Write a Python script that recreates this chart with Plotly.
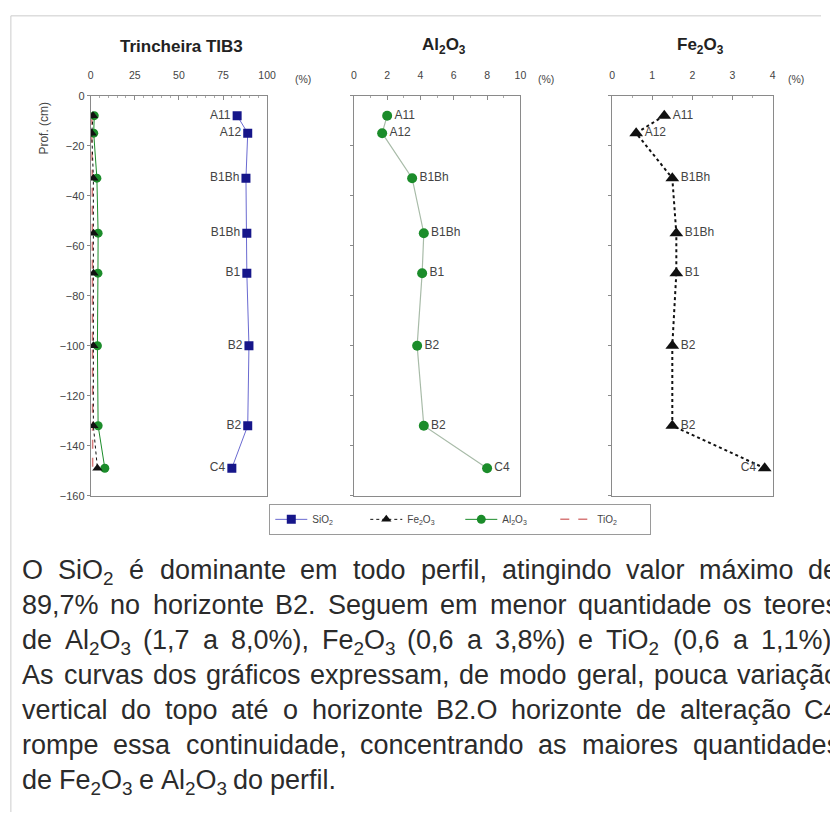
import re
import plotly.graph_objects as go

depth = [-8, -15, -33, -55, -71, -100, -132, -149]
horizons = ["A11", "A12", "B1Bh", "B1Bh", "B1", "B2", "B2", "C4"]
sio2 = [83, 89, 88, 88.5, 88.5, 89.7, 89, 80]
al2o3 = [2.0, 1.7, 3.5, 4.2, 4.1, 3.8, 4.2, 8.0]
fe2o3 = [1.3, 0.6, 1.5, 1.6, 1.6, 1.5, 1.5, 3.8]
tio2 = [0.7, 0.6, 0.9, 1.0, 0.9, 0.9, 1.0, 1.1]

y_ticks = [0, -20, -40, -60, -80, -100, -120, -140, -160]
x1_ticks = [0, 25, 50, 75, 100]
x2_ticks = [0, 2, 4, 6, 8, 10]
x3_ticks = [0, 1, 2, 3, 4]

paragraph = [
    "O SiO<sub>2</sub> é dominante em todo perfil, atingindo valor máximo de",
    "89,7% no horizonte B2. Seguem em menor quantidade os teores",
    "de Al<sub>2</sub>O<sub>3</sub> (1,7 a 8,0%), Fe<sub>2</sub>O<sub>3</sub> (0,6 a 3,8%) e TiO<sub>2</sub> (0,6 a 1,1%).",
    "As curvas dos gráficos expressam, de modo geral, pouca variação",
    "vertical do topo até o horizonte B2.O horizonte de alteração C4",
    "rompe essa continuidade,  concentrando as maiores quantidades",
    "de Fe<sub>2</sub>O<sub>3</sub> e Al<sub>2</sub>O<sub>3</sub> do perfil.",
]

W, H = 830, 818
def px(x):
    return x / W
def py(y):
    return 1 - y / H

NAVY = "#16168a"
GREEN = "#1b8c2a"
BLACK = "#111111"
RED = "#d77a7a"
LBL = "#444444"
FONT = "Liberation Sans, Arial, sans-serif"
LBLFONT = dict(size=12, color=LBL, family=FONT)

fig = go.Figure()

# Panel 1 (all oxides)
fig.add_trace(go.Scatter(x=tio2, y=depth, mode="lines", name="TiO<sub>2</sub>",
                         line=dict(color=RED, width=1.5, dash="dash"),
                         xaxis="x", yaxis="y", legendrank=4))
fig.add_trace(go.Scatter(x=al2o3, y=depth, mode="lines+markers", name="Al<sub>2</sub>O<sub>3</sub>",
                         line=dict(color=GREEN, width=1),
                         marker=dict(symbol="circle", size=9, color=GREEN),
                         xaxis="x", yaxis="y", legendrank=3))
fig.add_trace(go.Scatter(x=fe2o3, y=depth, mode="lines+markers", name="Fe<sub>2</sub>O<sub>3</sub>",
                         line=dict(color=BLACK, width=1, dash="dot"),
                         marker=dict(symbol="triangle-up", size=9, color=BLACK),
                         xaxis="x", yaxis="y", legendrank=2))
fig.add_trace(go.Scatter(x=sio2, y=depth, mode="lines+markers+text", name="SiO<sub>2</sub>",
                         line=dict(color="#6a6ad0", width=1),
                         marker=dict(symbol="square", size=9, color=NAVY),
                         text=horizons, textposition="middle left",
                         textfont=LBLFONT,
                         xaxis="x", yaxis="y", legendrank=1))

# Panel 2 (Al2O3)
fig.add_trace(go.Scatter(x=al2o3, y=depth, mode="lines+markers+text", showlegend=False,
                         line=dict(color="#a8bba8", width=1.2),
                         marker=dict(symbol="circle", size=10, color=GREEN),
                         text=horizons, textposition="middle right",
                         textfont=LBLFONT,
                         xaxis="x2", yaxis="y2"))

# Panel 3 (Fe2O3)
fe_pos = ["middle right"] * (len(horizons) - 1) + ["middle left"]
fig.add_trace(go.Scatter(x=fe2o3, y=depth, mode="lines+markers+text", showlegend=False,
                         line=dict(color=BLACK, width=2, dash="dot"),
                         marker=dict(symbol="triangle-up", size=12, color=BLACK),
                         text=horizons, textposition=fe_pos,
                         textfont=LBLFONT,
                         xaxis="x3", yaxis="y3"))

ydom = [py(497), py(91)]
axis_common = dict(showline=True, linecolor="#8a8a8a", linewidth=1, mirror=True,
                   showgrid=False, zeroline=False)

def xaxis(dom, rng, ticks, dtick_minor, anchor):
    return dict(domain=dom, range=rng, side="top", tickvals=ticks, ticks="inside",
                ticklen=4, tickcolor="#8a8a8a", anchor=anchor, ticklabelstandoff=11,
                tickfont=dict(size=10.5, color=LBL, family=FONT),
                minor=dict(dtick=dtick_minor, ticks="inside", ticklen=2, tickcolor="#aaaaaa"),
                **axis_common)

def yaxis(anchor, labels):
    return dict(domain=ydom, range=[-160, 0], tickvals=y_ticks, ticks="outside",
                ticklen=3, tickcolor="#8a8a8a", anchor=anchor, showticklabels=labels,
                tickfont=dict(size=11, color=LBL, family=FONT),
                **axis_common)

fig.update_layout(
    width=W, height=H, margin=dict(l=0, r=0, t=0, b=0),
    paper_bgcolor="white", plot_bgcolor="white",
    font=dict(family=FONT, color="#333333"),
    xaxis=xaxis([px(89), px(268)], [0, 100], x1_ticks, 5, "y"),
    xaxis2=xaxis([px(356), px(525)], [0, 10], x2_ticks, 1, "y2"),
    xaxis3=xaxis([px(618), px(781)], [0, 4], x3_ticks, 0.5, "y3"),
    yaxis=yaxis("x", True),
    yaxis2=yaxis("x2", False),
    yaxis3=yaxis("x3", False),
    legend=dict(orientation="h", x=px(464), xanchor="center", y=py(521), yanchor="middle",
                bordercolor="#9a9a9a", borderwidth=1, bgcolor="white",
                font=dict(size=10, color=LBL, family=FONT),
                itemwidth=32, entrywidth=48, entrywidthmode="pixels", tracegroupgap=0),
)

annotations = [
    dict(x=px(181), y=py(41), text="<b>Trincheira TIB3</b>", font=dict(size=17, color="#222")),
    dict(x=px(447), y=py(41), text="<b>Al<sub>2</sub>O<sub>3</sub></b>", font=dict(size=17, color="#222")),
    dict(x=px(708), y=py(41), text="<b>Fe<sub>2</sub>O<sub>3</sub></b>", font=dict(size=17, color="#222")),
    dict(x=px(304), y=py(74), text="(%)", font=dict(size=10.5, color=LBL)),
    dict(x=px(551), y=py(74), text="(%)", font=dict(size=10.5, color=LBL)),
    dict(x=px(805), y=py(74), text="(%)", font=dict(size=10.5, color=LBL)),
    dict(x=px(42), y=py(124), text="Prof. (cm)", textangle=-90, font=dict(size=12, color=LBL)),
]
for a in annotations:
    a.update(xref="paper", yref="paper", showarrow=False, xanchor="center", yanchor="middle")

# ---- justified paragraph (Arial / Liberation Sans metrics, per 1000 em) ----
CW = dict(zip("abcdefghijklmnopqrstuvwxyz",
              [556, 556, 500, 556, 556, 278, 556, 556, 222, 222, 500, 222, 833,
               556, 556, 556, 556, 333, 500, 278, 556, 500, 722, 500, 500, 500]))
CW.update(dict(zip("ABCDEFGHIJKLMNOPQRSTUVWXYZ",
                   [667, 667, 722, 722, 667, 611, 778, 722, 278, 500, 667, 556, 833,
                    722, 778, 667, 778, 722, 667, 611, 722, 667, 944, 667, 667, 611])))
CW.update({c: 556 for c in "0123456789"})
CW.update({" ": 278, ",": 278, ".": 278, "%": 889, "(": 333, ")": 333,
           "á": 556, "é": 556, "ã": 556, "ç": 500, "ó": 556, "í": 278})

def word_width(w, size):
    total = 0.0
    for part in re.split(r"(<sub>.*?</sub>)", w):
        if part.startswith("<sub>"):
            inner = part[5:-6]
            total += sum(CW.get(c, 556) for c in inner) * 0.7
        else:
            total += sum(CW.get(c, 556) for c in part)
    return total * size / 1000.0

PSIZE = 27
X0, XR = 18, 846
PFONT = dict(size=PSIZE, color="#2b2b2b", family=FONT)
line_y = [570, 606, 641, 677, 712, 748, 783]
for i, (txt, yy) in enumerate(zip(paragraph, line_y)):
    words = txt.split()
    widths = [word_width(w, PSIZE) for w in words]
    justified = i < len(paragraph) - 1
    if justified:
        gap = (XR - X0 - sum(widths)) / (len(words) - 1)
    else:
        gap = CW[" "] * PSIZE / 1000.0
    x = X0
    for w, wd in zip(words, widths):
        annotations.append(dict(x=px(x), y=py(yy - 14), xref="paper", yref="paper",
                                showarrow=False, xanchor="left", yanchor="top",
                                text=w, font=PFONT, borderpad=0))
        x += wd + gap

fig.update_layout(annotations=annotations)

fig.update_layout(shapes=[
    dict(type="line", xref="paper", yref="paper", x0=px(8), x1=1, y0=py(10), y1=py(10),
         line=dict(color="#cccccc", width=1)),
    dict(type="line", xref="paper", yref="paper", x0=px(8), x1=px(8), y0=py(10), y1=0,
         line=dict(color="#cccccc", width=1)),
])

fig.write_html("out.html", config={"displayModeBar": False},
               post_script="document.body.style.margin='0';document.body.style.overflow='hidden';")
